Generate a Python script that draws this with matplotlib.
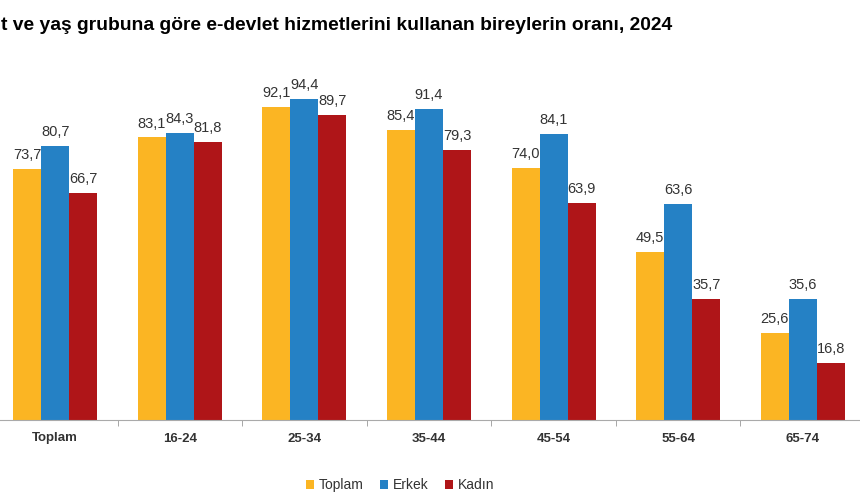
import numpy as np
import matplotlib.pyplot as plt
from matplotlib.ticker import FixedLocator

plt.rcParams['font.family'] = ['Liberation Sans', 'DejaVu Sans']

categories = ['Toplam', '16-24', '25-34', '35-44', '45-54', '55-64', '65-74']
toplam = [73.7, 83.1, 92.1, 85.4, 74.0, 49.5, 25.6]
erkek = [80.7, 84.3, 94.4, 91.4, 84.1, 63.6, 35.6]
kadin = [66.7, 81.8, 89.7, 79.3, 63.9, 35.7, 16.8]
series_names = ['Toplam', 'Erkek', 'Kadın']
colors = ['#FBB523', '#2581C5', '#AF1518']
title = 't ve yaş grubuna göre e-devlet hizmetlerini kullanan bireylerin oranı, 2024'

fig = plt.figure(figsize=(8.6, 5.04), dpi=100)
ax = fig.add_axes([-7 / 860, 84 / 504, 872 / 860, 340 / 504])

x = np.arange(len(categories))
w = 0.225
for i, (vals, name, c) in enumerate(zip([toplam, erkek, kadin], series_names, colors)):
    pos = x + (i - 1) * w
    ax.bar(pos, vals, width=w, color=c, label=name, linewidth=0)
    for xp, v in zip(pos, vals):
        ax.annotate(f'{v:.1f}'.replace('.', ','), (xp, v), xytext=(0, 5),
                    textcoords='offset points', ha='center', va='bottom',
                    fontsize=10.5, color='#333333')

ax.set_xlim(-0.5, len(categories) - 0.5)
ax.set_ylim(0, 100)
ax.set_xticks(x)
ax.set_xticklabels(categories, fontsize=9.5, fontweight='bold', color='#333333')
ax.xaxis.set_minor_locator(FixedLocator(x[:-1] + 0.5))
ax.tick_params(axis='x', which='major', length=0, pad=9)
ax.tick_params(axis='x', which='minor', length=4, color='#999999', direction='out')
ax.set_yticks([])
for s in ['top', 'right', 'left']:
    ax.spines[s].set_visible(False)
ax.spines['bottom'].set_color('#aaaaaa')

fig.text(1 / 860, 1 - 26 / 504, title, ha='left', va='center',
         fontsize=13.9, fontweight='bold', color='black')

fig.legend(loc='center', bbox_to_anchor=(400 / 860, 1 - 485 / 504), ncol=3, frameon=False,
           fontsize=10, handlelength=0.6, handleheight=0.6, handletextpad=0.3,
           columnspacing=1.2, labelcolor='#333333')

fig.savefig('out.png', dpi=100)
